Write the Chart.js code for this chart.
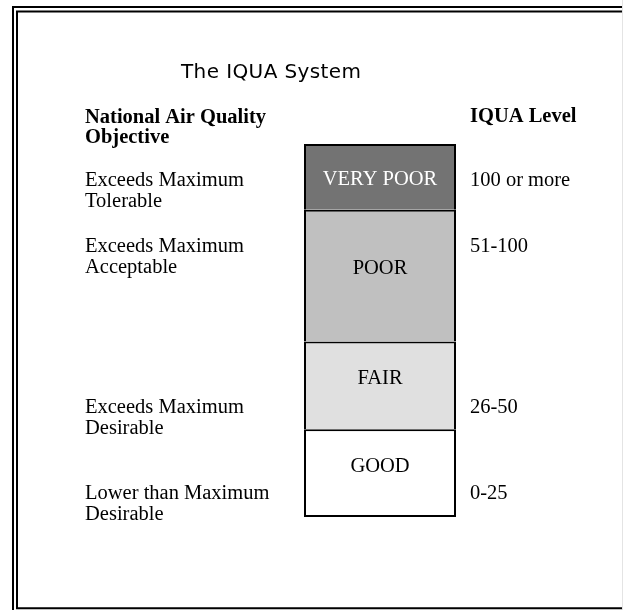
<!DOCTYPE html>
<html>
<head>
<meta charset="utf-8">
<script src="https://cdn.jsdelivr.net/npm/chart.js@4.4.1/dist/chart.umd.min.js"></script>
<style>
  html, body { margin: 0; padding: 0; background: #ffffff; }
  canvas { display: block; }
</style>
</head>
<body>
<canvas id="c" width="623" height="610"></canvas>
<script>
// ---- data (bottom to top) ----
const categories = ['GOOD', 'FAIR', 'POOR', 'VERY POOR'];
const segmentSizes = [4, 4, 6, 3];
const segmentColors = ['#ffffff', '#e0e0e0', '#c0c0c0', '#737373'];
const labelColors = ['#000000', '#000000', '#000000', '#ffffff'];
const objectiveLabels = [
  ['Lower than Maximum', 'Desirable'],
  ['Exceeds Maximum', 'Desirable'],
  ['Exceeds Maximum', 'Acceptable'],
  ['Exceeds Maximum', 'Tolerable']
];
const iquaLevels = ['0-25', '26-50', '51-100', '100 or more'];
const titleText = 'The IQUA System';
const leftHeader = ['National Air Quality', 'Objective'];
const rightHeader = 'IQUA Level';

// ---- layout ----
const sideOffsets = [70, 72, 42, 42];      // baseline of first side line below segment top (px)
const barLabelNudge = [-8, -8, -8, 1];     // bar label offset from segment centre (px)

const datasets = categories.map((name, i) => ({
  label: name,
  data: [segmentSizes[i]],
  backgroundColor: segmentColors[i],
  borderColor: '#000000',
  borderWidth: i === 0 ? { top: 2, bottom: 2, left: 2, right: 2 } : { top: 2, bottom: 0, left: 2, right: 2 },
  borderSkipped: false,
  inflateAmount: 0,
  barPercentage: 1,
  categoryPercentage: 1
}));

const textPlugin = {
  id: 'iquaText',
  afterDraw(chart) {
    const ctx = chart.ctx;
    const y = chart.scales.y;
    ctx.save();
    // frame
    ctx.strokeStyle = '#000000';
    ctx.lineWidth = 2;
    ctx.beginPath();
    ctx.moveTo(13, 612); ctx.lineTo(13, 7); ctx.lineTo(625, 7);
    ctx.stroke();
    ctx.beginPath();
    ctx.moveTo(625, 11.5); ctx.lineTo(17, 11.5); ctx.lineTo(17, 608.3); ctx.lineTo(625, 608.3);
    ctx.stroke();
    ctx.strokeStyle = '#e4e4e4';
    ctx.lineWidth = 1;
    ctx.beginPath(); ctx.moveTo(622.5, 0); ctx.lineTo(622.5, 610); ctx.stroke();

    // title
    ctx.fillStyle = '#000000';
    ctx.textBaseline = 'alphabetic';
    ctx.textAlign = 'left';
    ctx.font = '20px "DejaVu Sans"';
    try { ctx.letterSpacing = '0.4px'; } catch (e) {}
    ctx.fillText(titleText, 181, 78.3);
    try { ctx.letterSpacing = '0px'; } catch (e) {}

    // headers
    ctx.font = 'bold 20.5px "Liberation Serif"';
    ctx.fillText(leftHeader[0], 85, 122.7);
    ctx.fillText(leftHeader[1], 85, 142.7);
    ctx.fillText(rightHeader, 470, 121.7);

    // side labels and bar labels
    let cum = 0;
    categories.forEach((name, i) => {
      const start = cum, end = cum + segmentSizes[i];
      cum = end;
      const topPx = y.getPixelForValue(end);
      const botPx = y.getPixelForValue(start);
      ctx.font = '20.5px "Liberation Serif"';
      ctx.textAlign = 'left';
      ctx.fillStyle = '#000000';
      const base = topPx + sideOffsets[i];
      objectiveLabels[i].forEach((line, k) => ctx.fillText(line, 85, base + k * 21));
      ctx.fillText(iquaLevels[i], 470, base);
      // bar label
      const meta = chart.getDatasetMeta(i);
      const bar = meta.data[0];
      ctx.textAlign = 'center';
      ctx.fillStyle = labelColors[i];
      ctx.fillText(name, bar.x, (topPx + botPx) / 2 + 6.6 + barLabelNudge[i]);
    });
    ctx.restore();
  }
};

new Chart(document.getElementById('c'), {
  type: 'bar',
  data: { labels: ['IQUA'], datasets },
  options: {
    responsive: false,
    animation: false,
    devicePixelRatio: 1,
    layout: { padding: { left: 304, right: 167, top: 144, bottom: 93 } },
    plugins: { legend: { display: false }, tooltip: { enabled: false }, title: { display: false } },
    scales: {
      x: { display: false, stacked: true, grid: { display: false } },
      y: { display: false, stacked: true, min: 0, max: 17, grid: { display: false } }
    }
  },
  plugins: [textPlugin]
});
</script>
</body>
</html>
